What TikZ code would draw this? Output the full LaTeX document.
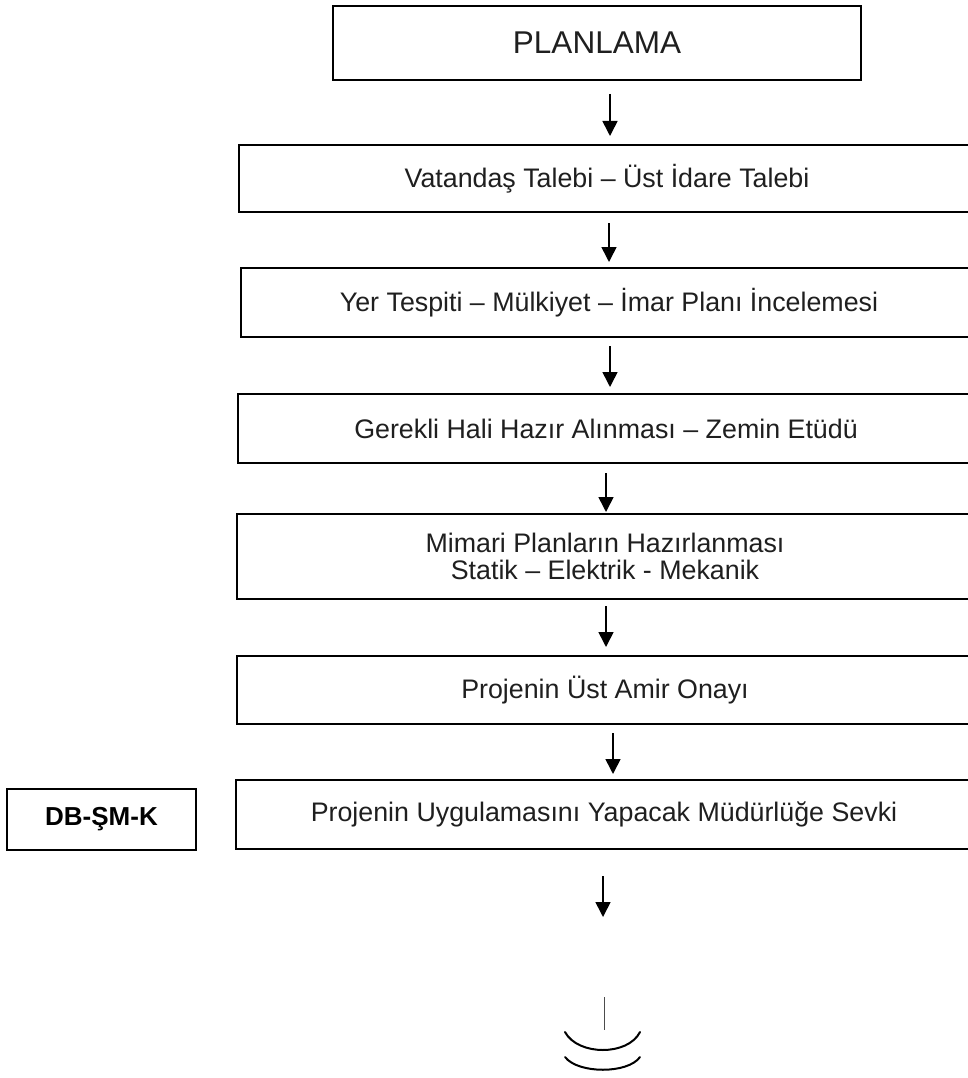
\documentclass[tikz,border=0pt]{standalone}
\usepackage{fontspec}
\setmainfont{Liberation Sans}
\usetikzlibrary{arrows.meta}
\begin{document}
\begin{tikzpicture}[x=1pt,y=-1pt,
  stepbox/.style={draw=black, line width=2pt, minimum width=737pt, inner sep=0pt,
    font=\fontsize{26.8}{27}\selectfont, align=center, text=black!88},
  arr/.style={line width=1.6pt, -{Triangle[width=15pt,length=15pt]}},
  curve/.style={line width=2pt, line cap=round}]
\useasboundingbox (0,0) rectangle (968,1078);
\clip (0,0) rectangle (968,1078);
\fill[white] (0,0) rectangle (968,1078);

\node[stepbox, minimum width=528pt, minimum height=74pt, font=\fontsize{31.5}{36}\selectfont] (plan) at (597,43) {PLANLAMA};
\node[stepbox, minimum height=67pt] (b2) at (607,178.5) {Vatandaş Talebi – Üst İdare Talebi};
\node[stepbox, minimum height=69pt] (b3) at (609,302.5) {Yer Tespiti – Mülkiyet – İmar Planı İncelemesi};
\node[stepbox, minimum height=69pt] (b4) at (606,428.5) {Gerekli Hali Hazır Alınması – Zemin Etüdü};
\node[stepbox, minimum height=85pt] (b5) at (605,556.5) {Mimari Planların Hazırlanması\\Statik – Elektrik - Mekanik};
\node[stepbox, minimum height=68pt] (b6) at (605,690) {Projenin Üst Amir Onayı};
\node[stepbox, minimum height=69pt] (b7) at (604,814.5) {Projenin Uygulamasını Yapacak Müdürlüğe Sevki};
\node[draw=black, line width=2pt, minimum width=189pt, minimum height=61pt, inner sep=0pt,
  font=\fontsize{26}{30}\selectfont\bfseries] (dbk) at (101.5,819.5) {DB-ŞM-K};

\coordinate (a7end) at (603,917);

\draw[arr, shorten <=13pt, shorten >=8pt] (plan.south -| 610,0) -- (b2.north -| 610,0);
\draw[arr, shorten <=10pt, shorten >=5pt] (b2.south -| 609,0) -- (b3.north -| 609,0);
\draw[arr, shorten <=8pt, shorten >=6pt] (b3.south -| 610,0) -- (b4.north -| 610,0);
\draw[arr, shorten <=9pt, shorten >=1pt] (b4.south -| 606,0) -- (b5.north -| 606,0);
\draw[arr, shorten <=6pt, shorten >=8pt] (b5.south -| 606,0) -- (b6.north -| 606,0);
\draw[arr, shorten <=8pt, shorten >=5pt] (b6.south -| 613,0) -- (b7.north -| 613,0);
\draw[arr, shorten <=26pt] (b7.south -| 603,0) -- (a7end);

\draw[line width=1pt, black!70] (604,997) -- (604,1030);
\draw[curve] (565,1032) .. controls (578,1056) and (628,1056) .. (640,1032);
\draw[curve] (565,1057) .. controls (578,1074) and (628,1074) .. (640,1057);
\end{tikzpicture}
\end{document}
